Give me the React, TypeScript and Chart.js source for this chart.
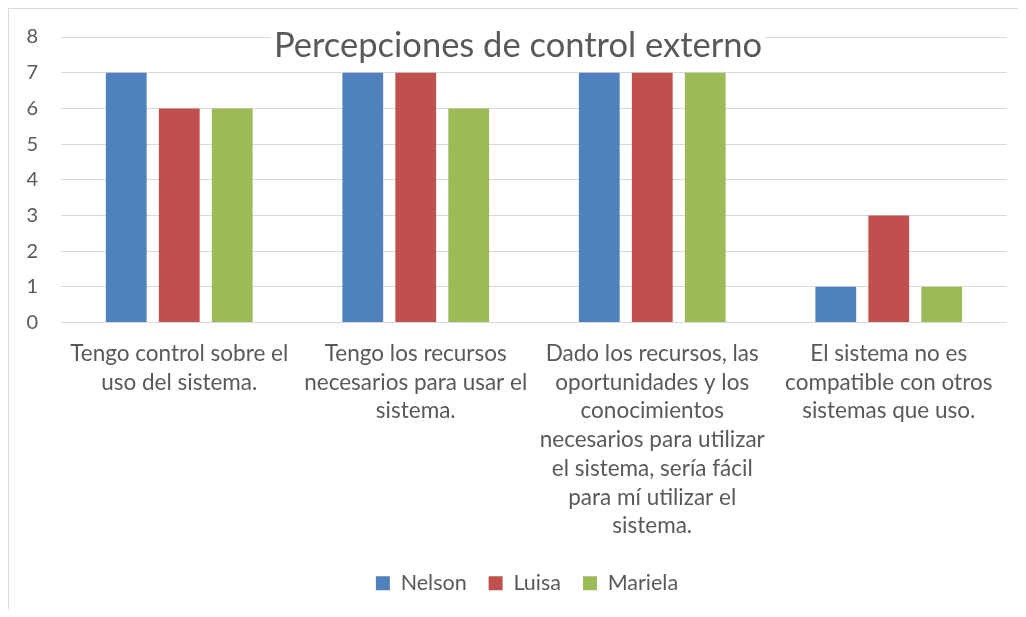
import React, { useEffect, useRef } from "react";
import { Chart, registerables } from "chart.js";

Chart.register(...registerables);

const chartTitle = "Percepciones de control externo";
const categories: string[][] = [
  ["Tengo control sobre el", "uso del sistema."],
  ["Tengo los recursos", "necesarios para usar el", "sistema."],
  [
    "Dado los recursos, las",
    "oportunidades y los",
    "conocimientos",
    "necesarios para utilizar",
    "el sistema, sería fácil",
    "para mí utilizar el",
    "sistema.",
  ],
  ["El sistema no es", "compatible con otros", "sistemas que uso."],
];
const seriesNames = ["Nelson", "Luisa", "Mariela"];
const nelson = [7, 7, 7, 1];
const luisa = [6, 7, 7, 3];
const mariela = [6, 6, 7, 1];
const seriesColors = ["#4f81bd", "#c0504d", "#9bbb59"];
const yMin = 0;
const yMax = 8;
const yStep = 1;

const FONT = "Lato";
const TEXT = "#595959";

const titlePlugin = {
  id: "overlayTitle",
  afterLayout(chart: any) {
    const lg = chart.legend;
    if (lg) {
      lg.left += 19;
      lg.right += 19;
    }
  },
  afterDraw(chart: any) {
    const ctx = chart.ctx;
    ctx.save();
    ctx.font = `34.5px ${FONT}`;
    const w = ctx.measureText(chartTitle).width;
    const cx = 509;
    ctx.fillStyle = "#ffffff";
    ctx.fillRect(cx - w / 2 - 3, 20, w + 6, 34);
    ctx.fillStyle = TEXT;
    ctx.textAlign = "center";
    ctx.textBaseline = "alphabetic";
    ctx.fillText(chartTitle, cx, 48);
    ctx.restore();
  },
};

export default function App() {
  const ref = useRef<HTMLCanvasElement | null>(null);
  useEffect(() => {
    if (!ref.current) return;
    const data = [nelson, luisa, mariela];
    const chart = new Chart(ref.current, {
      type: "bar",
      data: {
        labels: categories,
        datasets: seriesNames.map((name, i) => ({
          label: name,
          data: data[i],
          backgroundColor: seriesColors[i],
          borderWidth: 0,
          categoryPercentage: 0.672,
          barPercentage: 0.77,
        })),
      },
      options: {
        animation: false,
        responsive: false,
        maintainAspectRatio: false,
        layout: { padding: { left: 0, right: 11, top: 28, bottom: 5 } },
        plugins: {
          title: { display: false },
          tooltip: { enabled: false },
          legend: {
            position: "bottom",
            labels: {
              font: { family: FONT, size: 21.5 },
              color: TEXT,
              boxWidth: 14,
              boxHeight: 14,
              padding: 22,
            },
          },
        },
        scales: {
          x: {
            grid: { display: false, drawTicks: false },
            border: { display: false },
            ticks: {
              font: { family: FONT, size: 22.5, lineHeight: 1.275 },
              color: TEXT,
              padding: 17,
              maxRotation: 0,
              autoSkip: false,
            },
            afterFit(scale: any) {
              scale.height = 228;
              scale.paddingLeft = 0;
              scale.paddingRight = 0;
            },
          },
          y: {
            min: yMin,
            max: yMax,
            grid: { color: "#d9d9d9", lineWidth: 1, drawTicks: false },
            border: { display: false },
            ticks: {
              stepSize: yStep,
              font: { family: FONT, size: 20 },
              color: TEXT,
              padding: 23,
            },
            afterFit(scale: any) {
              scale.width = 52;
              scale.paddingTop = 0;
              scale.paddingBottom = 0;
            },
          },
        },
      },
      plugins: [titlePlugin],
    });
    return () => chart.destroy();
  }, []);
  return (
    <div
      style={{
        borderTop: "1px solid #d9d9d9",
        borderLeft: "1px solid #d9d9d9",
        width: 1009,
        height: 600,
        overflow: "hidden",
        background: "#fff",
      }}
    >
      <canvas ref={ref} width={1009} height={600} style={{ display: "block" }} />
    </div>
  );
}
